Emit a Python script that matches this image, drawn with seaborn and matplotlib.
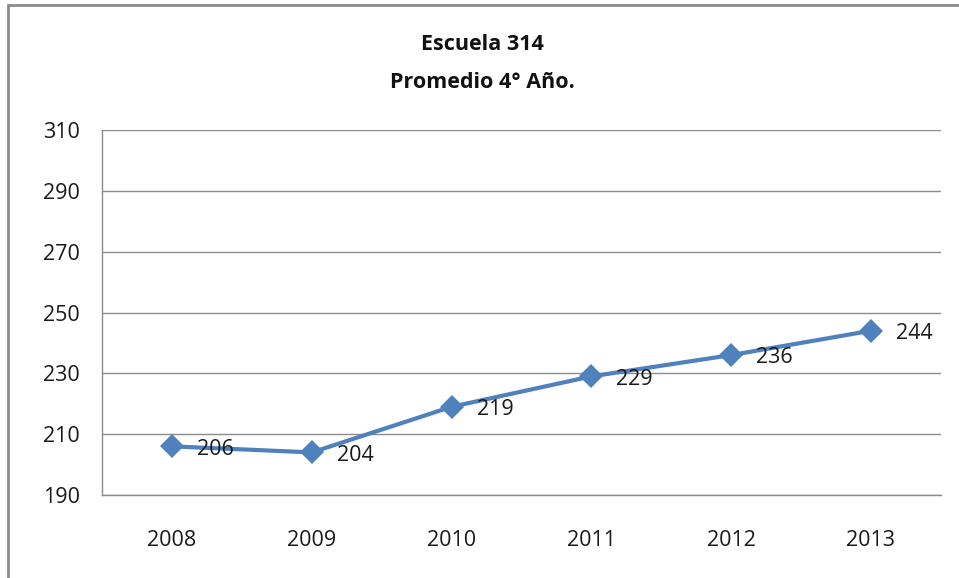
import matplotlib
matplotlib.use("Agg")
import matplotlib.pyplot as plt
import seaborn as sns
import pandas as pd
from matplotlib.patches import Rectangle
from matplotlib.ticker import FixedLocator

years = ["2008", "2009", "2010", "2011", "2012", "2013"]
promedio = [206, 204, 219, 229, 236, 244]
y_ticks = [190, 210, 230, 250, 270, 290, 310]

df = pd.DataFrame({"anio": years, "promedio": promedio})

sns.set_style("white")
plt.rcParams["font.family"] = ["Open Sans", "DejaVu Sans"]

fig = plt.figure(figsize=(9.59, 5.78), dpi=100)
ax = fig.add_axes([0.1064, 0.1436, 0.981 - 0.1064, 0.775 - 0.1436])

sns.lineplot(data=df, x="anio", y="promedio", ax=ax, color="#4F81BD",
             linewidth=3, marker="D", markersize=12.5, markeredgewidth=0,
             sort=False)

for i, v in enumerate(promedio):
    ax.annotate(str(v), (i, v), xytext=(18, -2), textcoords="offset points",
                ha="left", va="center", fontsize=15.5, color="#1a1a1a")

ax.set_ylim(190, 310)
ax.set_yticks(y_ticks)
ax.set_xlim(-0.5, len(years) - 0.5)
ax.set_xticks(range(len(years)))
ax.set_xticklabels(years)
ax.xaxis.set_minor_locator(FixedLocator([i - 0.5 for i in range(len(years) + 1)]))

ax.grid(axis="y", color="#8c8c8c", linewidth=1)
ax.set_axisbelow(True)
for s in ["top", "right"]:
    ax.spines[s].set_visible(False)
for s in ["left", "bottom"]:
    ax.spines[s].set_color("#8c8c8c")
    ax.spines[s].set_linewidth(1)

ax.tick_params(axis="y", which="major", length=5, width=1, color="#8c8c8c",
               pad=11, labelsize=15.5, labelcolor="#1a1a1a")
ax.tick_params(axis="x", which="major", length=0, pad=25, labelsize=15.5,
               labelcolor="#1a1a1a")
ax.tick_params(axis="x", which="minor", length=5, width=1, color="#8c8c8c")
ax.set_xlabel("")
ax.set_ylabel("")

fig.text(0.503, 1 - 45 / 578, "Escuela 314", ha="center", va="center",
         fontsize=15.5, fontweight="bold", color="#111111")
fig.text(0.503, 1 - 83 / 578, "Promedio 4° Año.", ha="center", va="center",
         fontsize=15.5, fontweight="bold", color="#111111")

fig.patches.append(Rectangle((8 / 959, -0.2), 1.0, 1.2 - 5 / 578, transform=fig.transFigure,
                             fill=False, edgecolor="#8c8c8c", linewidth=2))

fig.savefig("out.png", dpi=100)
